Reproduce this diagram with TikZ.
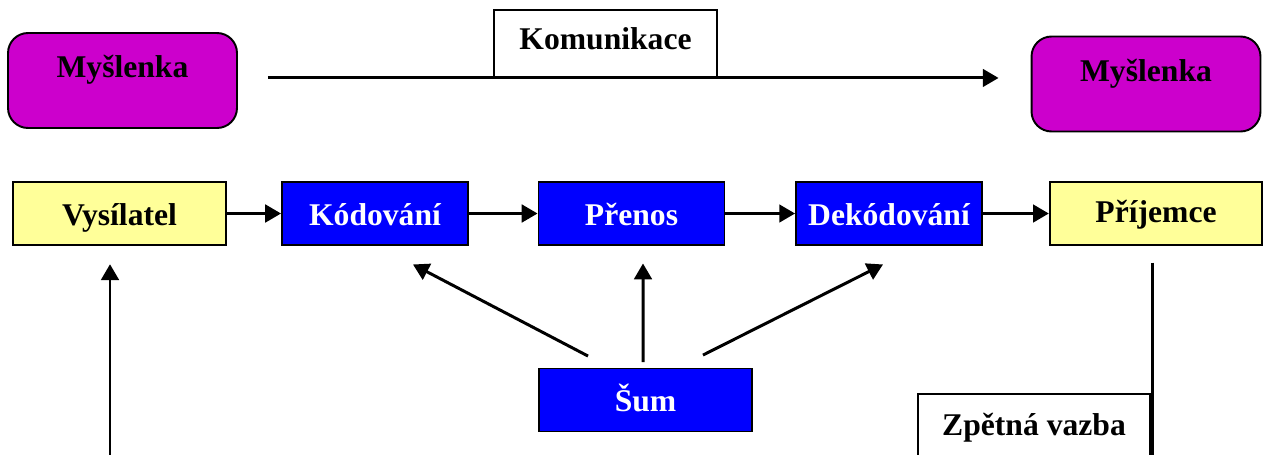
\documentclass[tikz,border=0pt]{standalone}
\usepackage{fontspec}
\setmainfont{Liberation Serif}
\usetikzlibrary{arrows.meta}
\definecolor{mag}{HTML}{CC00CC}
\definecolor{pale}{HTML}{FFFF99}
\definecolor{pureblue}{HTML}{0000FF}
\begin{document}
\begin{tikzpicture}[x=0.02cm,y=-0.02cm,
  font=\fontsize{18}{20}\selectfont\bfseries,
  box/.style={draw=black, line width=1.1pt, inner sep=0pt, text height=0.56cm, text depth=0.1cm},
  think/.style={box, fill=mag, rounded corners=0.4cm, minimum width=4.58cm, minimum height=1.9cm},
  person/.style={box, fill=pale, minimum width=4.25cm, minimum height=1.25cm},
  stage/.style={box, fill=pureblue, text=white, minimum width=3.72cm, minimum height=1.26cm},
  labelbox/.style={box, fill=white},
  conn/.style={line width=1.7pt, -{Triangle[length=9pt,width=10pt]}}]
\useasboundingbox (0,0) rectangle (1266,454);

\node[think] (m1) at (122.5,80.5) {\raisebox{0.30cm}{Myšlenka}};
\node[think] (m2) at (1146,84) {\raisebox{0.28cm}{Myšlenka}};
\node[labelbox, minimum width=4.46cm, minimum height=1.34cm, text depth=0.34cm] (kom) at (605.5,43.5) {Komunikace};

\node[person] (vys) at (119.5,213.5) {Vysílatel};
\node[stage] (kod) at (375,213.5) {Kódování};
\node[stage] (pre) at (631.5,213.5) {Přenos};
\node[stage] (dek) at (889,213.5) {Dekódování};
\node[person, text depth=0.2cm] (pri) at (1156,213.5) {Příjemce};

\node[stage, minimum width=4.26cm] (sum) at (645.5,400) {Šum};
\node[labelbox, minimum width=4.64cm, minimum height=1.36cm, text depth=0.28cm] (zv) at (1034,428) {Zpětná vazba};

\draw[conn] ([xshift=0.6cm]m1.east |- kom.south) -- ([xshift=-0.64cm]m2.west |- kom.south);

\draw[conn] (vys) -- (kod);
\draw[conn] (kod) -- (pre);
\draw[conn] (pre) -- (dek);
\draw[conn] (dek) -- (pri);

\draw[conn] ([xshift=-1.15cm,yshift=0.23cm]sum.north) -- ([xshift=0.76cm,yshift=-0.37cm]kod.south);
\draw[conn] ([xshift=-0.05cm,yshift=0.11cm]sum.north) -- ([xshift=0.23cm,yshift=-0.35cm]pre.south);
\draw[conn] ([xshift=1.15cm,yshift=0.25cm]sum.north) -- ([xshift=-0.12cm,yshift=-0.37cm]dek.south);

\coordinate (fbR) at ([xshift=-0.08cm,yshift=-0.34cm]pri.south);
\coordinate (fbL) at ([xshift=-0.19cm,yshift=-0.37cm]vys.south);
\draw[conn] (fbR) -- (fbR |- 0,470) -- (fbL |- 0,470) -- (fbL);
\end{tikzpicture}
\end{document}
